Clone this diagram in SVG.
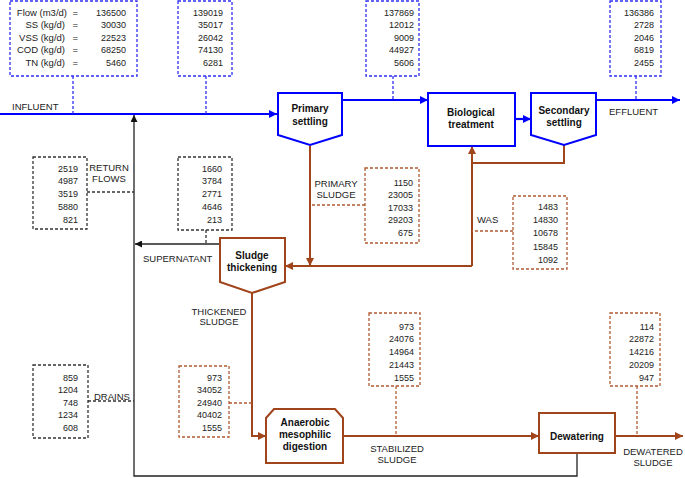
<svg xmlns="http://www.w3.org/2000/svg" width="685" height="478" viewBox="0 0 685 478">
<style>
text{font-family:"Liberation Sans",Arial,sans-serif;fill:#222}
.num{font-size:9px;text-anchor:end}
.key{font-size:9.5px;text-anchor:end}
.lbl{font-size:9.5px}
.lblc{font-size:9.5px;text-anchor:middle}
.node{font-size:10px;font-weight:bold;text-anchor:middle;fill:#111}
.bn{fill:#fff;stroke:#0000ff;stroke-width:2}
.rn{fill:#fff;stroke:#a0441c;stroke-width:2}
.db{fill:none;stroke:#2f2ff5;stroke-width:1.3;stroke-dasharray:3,2}
.dr{fill:none;stroke:#b05a30;stroke-width:1.3;stroke-dasharray:3,2}
.dk{fill:none;stroke:#333;stroke-width:1.3;stroke-dasharray:3,2}
.lb{fill:none;stroke:#0000ff;stroke-width:2.2}
.lr{fill:none;stroke:#a0441c;stroke-width:2}
.lk{fill:none;stroke:#222;stroke-width:1.3}
</style>
<defs>
<marker id="ab" viewBox="0 0 10 10" refX="10" refY="5" markerWidth="9" markerHeight="8" markerUnits="userSpaceOnUse" orient="auto"><path d="M0,0 L10,5 L0,10 z" fill="#0000ff"/></marker>
<marker id="ar" viewBox="0 0 10 10" refX="10" refY="5" markerWidth="9" markerHeight="8" markerUnits="userSpaceOnUse" orient="auto"><path d="M0,0 L10,5 L0,10 z" fill="#a0441c"/></marker>
<marker id="ak" viewBox="0 0 10 10" refX="10" refY="5" markerWidth="9" markerHeight="7" markerUnits="userSpaceOnUse" orient="auto"><path d="M0,0 L10,5 L0,10 z" fill="#111"/></marker>
</defs>

<g id="connectors">
  <path class="lb" d="M0,114 H277" marker-end="url(#ab)"/>
  <path class="lb" d="M343,100 H428" marker-end="url(#ab)"/>
  <path class="lb" d="M515,119 H531" marker-end="url(#ab)"/>
  <path class="lb" d="M596,100 H680" marker-end="url(#ab)"/>
  <path class="lr" d="M310,146 V266" marker-end="url(#ar)"/>
  <path class="lr" d="M564,145 V163 H472"/>
  <path class="lr" d="M472,266 V146" marker-end="url(#ar)"/>
  <path class="lr" d="M472,266 H285" marker-end="url(#ar)"/>
  <path class="lr" d="M252,293 V436 H266" marker-end="url(#ar)"/>
  <path class="lr" d="M343,436 H539" marker-end="url(#ar)"/>
  <path class="lr" d="M615,436 H683" marker-end="url(#ar)"/>
  <path class="lk" d="M577,453 V476 H134 V115" marker-end="url(#ak)"/>
  <path class="lk" d="M220,244 H135" marker-end="url(#ak)"/>
  <path class="db" d="M73,76 V114"/>
  <path class="db" d="M206,76 V114"/>
  <path class="db" d="M393,76 V100"/>
  <path class="db" d="M636,76 V100"/>
  <path class="dk" d="M87,192 H134"/>
  <path class="dk" d="M206,230 V244"/>
  <path class="dk" d="M88,401 H134"/>
  <path class="dr" d="M365,205 H310"/>
  <path class="dr" d="M513,231 H472"/>
  <path class="dr" d="M229,403 H252"/>
  <path class="dr" d="M396,386 V436"/>
  <path class="dr" d="M637,386 V436"/>
</g>

<g id="labels">
  <text class="lbl" x="12" y="110">INFLUENT</text>
  <text class="lbl" x="609" y="115">EFFLUENT</text>
  <text class="lblc" x="109" y="171">RETURN</text>
  <text class="lblc" x="109" y="182">FLOWS</text>
  <text class="lbl" x="143" y="262">SUPERNATANT</text>
  <text class="lblc" x="336" y="187">PRIMARY</text>
  <text class="lblc" x="336" y="198">SLUDGE</text>
  <text class="lbl" x="477" y="223">WAS</text>
  <text class="lblc" x="219" y="315">THICKENED</text>
  <text class="lblc" x="219" y="325">SLUDGE</text>
  <text class="lbl" x="94" y="400">DRAINS</text>
  <text class="lblc" x="397" y="452">STABILIZED</text>
  <text class="lblc" x="397" y="463">SLUDGE</text>
  <text class="lblc" x="653" y="455">DEWATERED</text>
  <text class="lblc" x="653" y="466">SLUDGE</text>
</g>

<g id="data-influent">
  <rect class="db" x="10" y="1" width="127" height="75"/>
  <text class="key" x="67" y="15.5">Flow (m3/d)</text>
  <text class="key" x="65" y="28">SS (kg/d)</text>
  <text class="key" x="65" y="40.5">VSS (kg/d)</text>
  <text class="key" x="65" y="53">COD (kg/d)</text>
  <text class="key" x="65" y="65.5">TN (kg/d)</text>
  <text class="key" x="78" y="15.5">=</text>
  <text class="key" x="78" y="28">=</text>
  <text class="key" x="78" y="40.5">=</text>
  <text class="key" x="78" y="53">=</text>
  <text class="key" x="78" y="65.5">=</text>
  <text class="num" x="126" y="15.5">136500</text>
  <text class="num" x="126" y="28">30030</text>
  <text class="num" x="126" y="40.5">22523</text>
  <text class="num" x="126" y="53">68250</text>
  <text class="num" x="126" y="65.5">5460</text>
</g>
<g id="data-influent-total">
  <rect class="db" x="178" y="1" width="54" height="75"/>
  <text class="num" x="223" y="15.5">139019</text>
  <text class="num" x="223" y="28">35017</text>
  <text class="num" x="223" y="40.5">26042</text>
  <text class="num" x="223" y="53">74130</text>
  <text class="num" x="223" y="65.5">6281</text>
</g>
<g id="data-primary-effluent">
  <rect class="db" x="366" y="1" width="53" height="75"/>
  <text class="num" x="414" y="15.5">137869</text>
  <text class="num" x="414" y="28">12012</text>
  <text class="num" x="414" y="40.5">9009</text>
  <text class="num" x="414" y="53">44927</text>
  <text class="num" x="414" y="65.5">5606</text>
</g>
<g id="data-effluent">
  <rect class="db" x="610" y="1" width="51" height="75"/>
  <text class="num" x="654" y="15.5">136386</text>
  <text class="num" x="654" y="28">2728</text>
  <text class="num" x="654" y="40.5">2046</text>
  <text class="num" x="654" y="53">6819</text>
  <text class="num" x="654" y="65.5">2455</text>
</g>
<g id="data-return">
  <rect class="dk" x="33" y="157" width="54" height="72"/>
  <text class="num" x="78" y="171.5">2519</text>
  <text class="num" x="78" y="184.3">4987</text>
  <text class="num" x="78" y="197.1">3519</text>
  <text class="num" x="78" y="209.9">5880</text>
  <text class="num" x="78" y="222.7">821</text>
</g>
<g id="data-supernatant">
  <rect class="dk" x="178" y="157" width="54" height="73"/>
  <text class="num" x="222" y="171.5">1660</text>
  <text class="num" x="222" y="184.3">3784</text>
  <text class="num" x="222" y="197.1">2771</text>
  <text class="num" x="222" y="209.9">4646</text>
  <text class="num" x="222" y="222.7">213</text>
</g>
<g id="data-primary-sludge">
  <rect class="dr" x="365" y="168" width="54" height="75"/>
  <text class="num" x="413" y="185.5">1150</text>
  <text class="num" x="413" y="198">23005</text>
  <text class="num" x="413" y="210.5">17033</text>
  <text class="num" x="413" y="223">29203</text>
  <text class="num" x="413" y="236">675</text>
</g>
<g id="data-was">
  <rect class="dr" x="513" y="196" width="54" height="73"/>
  <text class="num" x="558" y="209.5">1483</text>
  <text class="num" x="558" y="222.8">14830</text>
  <text class="num" x="558" y="236.3">10678</text>
  <text class="num" x="558" y="250">15845</text>
  <text class="num" x="558" y="263.3">1092</text>
</g>
<g id="data-drains">
  <rect class="dk" x="33" y="365" width="55" height="73"/>
  <text class="num" x="78" y="380.5">859</text>
  <text class="num" x="78" y="393">1204</text>
  <text class="num" x="78" y="405.5">748</text>
  <text class="num" x="78" y="418">1234</text>
  <text class="num" x="78" y="430.5">608</text>
</g>
<g id="data-thickened">
  <rect class="dr" x="179" y="366" width="50" height="71"/>
  <text class="num" x="222" y="380.5">973</text>
  <text class="num" x="222" y="393">34052</text>
  <text class="num" x="222" y="405.5">24940</text>
  <text class="num" x="222" y="418">40402</text>
  <text class="num" x="222" y="430.5">1555</text>
</g>
<g id="data-stabilized">
  <rect class="dr" x="369" y="313" width="51" height="73"/>
  <text class="num" x="414" y="329.5">973</text>
  <text class="num" x="414" y="342.3">24076</text>
  <text class="num" x="414" y="355.1">14964</text>
  <text class="num" x="414" y="367.9">21443</text>
  <text class="num" x="414" y="380.5">1555</text>
</g>
<g id="data-dewatered">
  <rect class="dr" x="610" y="313" width="50" height="73"/>
  <text class="num" x="654" y="329.5">114</text>
  <text class="num" x="654" y="342.3">22872</text>
  <text class="num" x="654" y="355.1">14216</text>
  <text class="num" x="654" y="367.9">20209</text>
  <text class="num" x="654" y="380.5">947</text>
</g>

<g id="primary-settling">
  <path class="bn" d="M278,93 H342 V135 L310,145 L278,135 Z"/>
  <text class="node" x="310" y="112">Primary</text>
  <text class="node" x="310" y="125">settling</text>
</g>
<g id="biological-treatment">
  <rect class="bn" x="428" y="93" width="87" height="53"/>
  <text class="node" x="471" y="116">Biological</text>
  <text class="node" x="471" y="128">treatment</text>
</g>
<g id="secondary-settling">
  <path class="bn" d="M531,93 H596 V135 L564,145 L531,135 Z"/>
  <text class="node" x="564" y="114">Secondary</text>
  <text class="node" x="564" y="126">settling</text>
</g>
<g id="sludge-thickening">
  <path class="rn" d="M220,238 H285 V282 L252,293 L220,282 Z"/>
  <text class="node" x="252" y="259">Sludge</text>
  <text class="node" x="252" y="271">thickening</text>
</g>
<g id="anaerobic-digestion">
  <path class="rn" d="M274,409 H335 L343,418 V463 H266 V418 Z"/>
  <text class="node" x="305" y="426">Anaerobic</text>
  <text class="node" x="305" y="438">mesophilic</text>
  <text class="node" x="305" y="450">digestion</text>
</g>
<g id="dewatering">
  <rect class="rn" x="539" y="413" width="76" height="40"/>
  <text class="node" x="577" y="440">Dewatering</text>
</g>
</svg>
